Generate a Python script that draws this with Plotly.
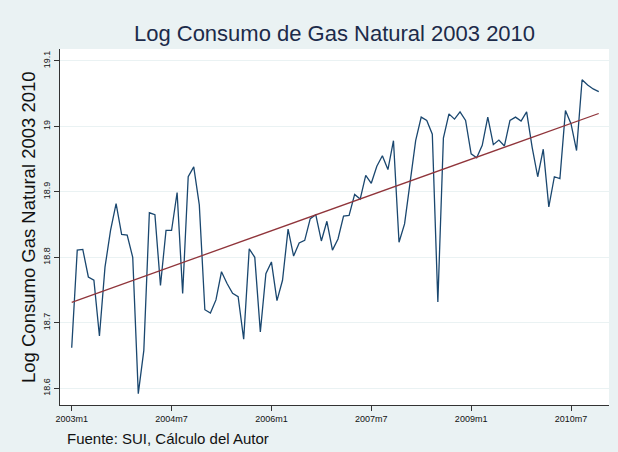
import numpy as np
import plotly.graph_objects as go

# Monthly series 2003m1 .. 2010m12 (month index 0..95)
month_index = list(range(96))
years = [2003 + i // 12 for i in month_index]
months = [i % 12 + 1 for i in month_index]
month_labels = [f"{y}m{m}" for y, m in zip(years, months)]

log_gas = [
    18.662, 18.811, 18.812, 18.770, 18.765, 18.680, 18.785, 18.841, 18.882, 18.835, 18.834, 18.800,
    18.592, 18.658, 18.868, 18.865, 18.757, 18.841, 18.841, 18.899, 18.745, 18.923, 18.938, 18.880,
    18.720, 18.715, 18.735, 18.778, 18.760, 18.745, 18.740, 18.675, 18.813, 18.800, 18.686, 18.775,
    18.793, 18.734, 18.765, 18.843, 18.802, 18.822, 18.826, 18.859, 18.865, 18.825, 18.855, 18.811,
    18.828, 18.863, 18.864, 18.896, 18.889, 18.925, 18.913, 18.939, 18.955, 18.934, 18.978, 18.823,
    18.851, 18.917, 18.978, 19.014, 19.009, 18.988, 18.732, 18.982, 19.019, 19.011, 19.022, 19.009,
    18.958, 18.952, 18.971, 19.014, 18.972, 18.979, 18.970, 19.009, 19.014, 19.008, 19.022, 18.968,
    18.923, 18.965, 18.877, 18.923, 18.920, 19.024, 19.004, 18.963, 19.071, 19.063, 19.057, 19.053,
]

x_tick_vals = [0, 18, 36, 54, 72, 90]
x_tick_text = ["2003m1", "2004m7", "2006m1", "2007m7", "2009m1", "2010m7"]
y_tick_vals = [18.6, 18.7, 18.8, 18.9, 19.0, 19.1]
y_tick_text = ["18.6", "18.7", "18.8", "18.9", "19", "19.1"]

# Linear fit (as Stata's lfit)
slope, intercept = np.polyfit(month_index, log_gas, 1)
fit = [intercept + slope * i for i in month_index]

BG = "#EAF2F3"
NAVY = "#1A476F"
MAROON = "#90353B"
FONT = "Liberation Sans, Arial, sans-serif"

fig = go.Figure()
fig.add_trace(go.Scatter(x=month_index, y=log_gas, mode="lines",
                         line=dict(color=NAVY, width=1.3), text=month_labels,
                         name="Log Consumo"))
fig.add_trace(go.Scatter(x=month_index, y=fit, mode="lines",
                         line=dict(color=MAROON, width=1.3), name="Fitted values"))

fig.update_layout(
    width=618, height=452,
    margin=dict(l=60, r=9, t=49, b=47),
    paper_bgcolor=BG, plot_bgcolor="white",
    showlegend=False,
    font=dict(family=FONT, color="#111111"),
    title=dict(text="Log Consumo de Gas Natural 2003 2010",
               font=dict(family=FONT, size=22, color="#1C2B4A"),
               x=0.5, xref="paper", xanchor="center",
               y=1 - 33 / 452, yref="container", yanchor="middle"),
)
fig.update_xaxes(
    range=[-2.11, 96.85], tickmode="array", tickvals=x_tick_vals, ticktext=x_tick_text,
    showgrid=False, zeroline=False, showline=True, linecolor="#333333", linewidth=1,
    ticks="outside", ticklen=5, tickcolor="#333333",
    tickfont=dict(family=FONT, size=9, color="#111111"),
)
fig.update_yaxes(
    range=[18.5746, 19.118], tickmode="array", tickvals=y_tick_vals, ticktext=y_tick_text,
    showgrid=True, gridcolor=BG, gridwidth=1, zeroline=False,
    showline=True, linecolor="#333333", linewidth=1,
    ticks="outside", ticklen=5, tickcolor="#333333", tickangle=-90,
    tickfont=dict(family=FONT, size=9, color="#111111"),
)
fig.add_annotation(text="Log Consumo Gas Natural 2003 2010", textangle=-90,
                   xref="paper", yref="paper", x=(28 - 60) / 549.3, y=0.5,
                   xanchor="center", yanchor="middle", showarrow=False,
                   font=dict(family=FONT, size=18.5, color="#111111"))
fig.add_annotation(text="Fuente: SUI, Cálculo del Autor",
                   xref="paper", yref="paper", x=(65 - 60) / 549.3, y=-33 / 356,
                   xanchor="left", yanchor="middle", showarrow=False,
                   font=dict(family=FONT, size=15, color="#111111"))

fig.write_html("out.html", config={"displayModeBar": False},
               post_script="document.body.style.margin='0';")
